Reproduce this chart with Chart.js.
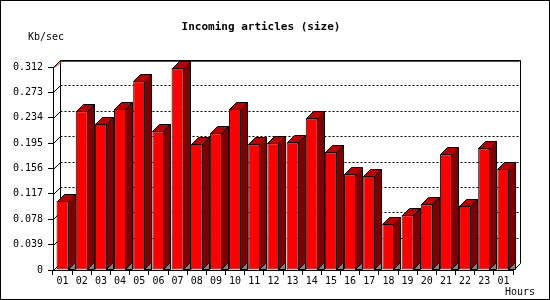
<!DOCTYPE html>
<html>
<head>
<meta charset="utf-8">
<script src="https://cdn.jsdelivr.net/npm/chart.js@4/dist/chart.umd.min.js"></script>
<style>
  html, body { margin: 0; padding: 0; background: #fff; }
  canvas { display: block; }
</style>
</head>
<body>
<canvas id="chart" width="550" height="300"></canvas>
<script>
const hours = ['01', '02', '03', '04', '05', '06', '07', '08', '09', '10', '11', '12',
  '13', '14', '15', '16', '17', '18', '19', '20', '21', '22', '23', '01'];
const kbPerSec = [0.106, 0.244, 0.225, 0.248, 0.290, 0.213, 0.310, 0.194, 0.210, 0.248, 0.193, 0.195,
  0.196, 0.233, 0.181, 0.147, 0.145, 0.071, 0.084, 0.101, 0.178, 0.099, 0.187, 0.156];
const yTickValues = [0, 0.039, 0.078, 0.117, 0.156, 0.195, 0.234, 0.273, 0.312];
const yTickLabels = ['0', '0.039', '0.078', '0.117', '0.156', '0.195', '0.234', '0.273', '0.312'];

const DEPTH = 7;
const MONO = '"DejaVu Sans Mono", monospace';

// back wall, dotted grid and the little diagonals off the y axis
const backWall = {
  id: 'backWall',
  beforeDatasetsDraw(chart) {
    const { ctx, chartArea: a, scales: { y } } = chart;
    const l = Math.round(a.left) + 0.5, r = Math.round(a.right) + 0.5;
    const t = Math.round(a.top) + 0.5, b = Math.round(a.bottom) + 0.5;
    ctx.save();
    ctx.lineWidth = 1;
    ctx.strokeStyle = '#000';

    ctx.setLineDash([2, 2]);
    yTickValues.slice(1, -1).forEach(v => {
      const py = Math.round(y.getPixelForValue(v)) + 0.5 - DEPTH;
      ctx.beginPath();
      ctx.moveTo(l + DEPTH, py);
      ctx.lineTo(r + DEPTH, py);
      ctx.stroke();
    });
    ctx.setLineDash([]);

    yTickValues.forEach(v => {
      const py = Math.round(y.getPixelForValue(v)) + 0.5;
      ctx.beginPath();
      ctx.moveTo(l, py);
      ctx.lineTo(l + DEPTH, py - DEPTH);
      ctx.stroke();
    });

    // wall edges
    ctx.beginPath();
    ctx.moveTo(l + DEPTH, b - DEPTH);
    ctx.lineTo(l + DEPTH, t - DEPTH);
    ctx.lineTo(r + DEPTH, t - DEPTH);
    ctx.lineTo(r + DEPTH, b - DEPTH);
    ctx.lineTo(r, b);
    ctx.stroke();

    // red line under the top edge
    ctx.strokeStyle = '#ff0000';
    ctx.beginPath();
    ctx.moveTo(l + 1, t);
    ctx.lineTo(l + DEPTH + 1, t - DEPTH + 1);
    ctx.lineTo(r + DEPTH - 1, t - DEPTH + 1);
    ctx.stroke();
    ctx.restore();
  }
};

// side and top faces of each bar
const bars3d = {
  id: 'bars3d',
  afterDatasetsDraw(chart) {
    const { ctx } = chart;
    const meta = chart.getDatasetMeta(0);
    ctx.save();
    ctx.lineWidth = 1;
    ctx.strokeStyle = '#000';
    meta.data.forEach(bar => {
      const xl = Math.round(bar.x - bar.width / 2) + 0.5;
      const xr = Math.round(bar.x + bar.width / 2) - 0.5;
      const yt = Math.round(bar.y) + 0.5;
      const yb = Math.round(bar.base) - 0.5;

      ctx.fillStyle = '#808080';
      ctx.beginPath();
      ctx.moveTo(xr, yb);
      ctx.lineTo(xr + DEPTH, yb - DEPTH);
      ctx.lineTo(xr + DEPTH, yb);
      ctx.closePath();
      ctx.fill();
      ctx.stroke();

      ctx.fillStyle = '#800000';
      ctx.beginPath();
      ctx.moveTo(xr, yt);
      ctx.lineTo(xr + DEPTH, yt - DEPTH);
      ctx.lineTo(xr + DEPTH, yb - DEPTH);
      ctx.lineTo(xr, yb);
      ctx.closePath();
      ctx.fill();
      ctx.stroke();

      ctx.fillStyle = '#c00000';
      ctx.beginPath();
      ctx.moveTo(xl, yt);
      ctx.lineTo(xl + DEPTH, yt - DEPTH);
      ctx.lineTo(xr + DEPTH, yt - DEPTH);
      ctx.lineTo(xr, yt);
      ctx.closePath();
      ctx.fill();
      ctx.stroke();
    });
    ctx.restore();
  }
};

// titles and the outer frame
const labels = {
  id: 'labels',
  afterDraw(chart) {
    const { ctx, width, height } = chart;
    ctx.save();
    ctx.fillStyle = '#000';
    ctx.textBaseline = 'middle';
    ctx.textAlign = 'center';
    ctx.font = 'bold 11px ' + MONO;
    ctx.fillText('Incoming articles (size)', 261, 27);
    ctx.textAlign = 'left';
    ctx.font = '10px ' + MONO;
    ctx.fillText('Kb/sec', 28, 37);
    ctx.fillText('Hours', 505, 292);
    ctx.strokeStyle = '#000';
    ctx.lineWidth = 1;
    ctx.strokeRect(0.5, 0.5, width - 1, height - 1);
    ctx.restore();
  }
};

new Chart(document.getElementById('chart'), {
  type: 'bar',
  data: {
    labels: hours,
    datasets: [{
      data: kbPerSec,
      backgroundColor: '#ff0000',
      borderColor: '#000',
      borderWidth: 1,
      borderSkipped: false,
      categoryPercentage: 1,
      barPercentage: 0.63
    }]
  },
  options: {
    responsive: false,
    animation: false,
    devicePixelRatio: 1,
    layout: { padding: { left: 8, right: 37, top: 67, bottom: 10 } },
    plugins: { legend: { display: false }, tooltip: { enabled: false } },
    scales: {
      x: {
        afterFit: s => { s.height = 20; },
        grid: { drawOnChartArea: false, tickLength: 5, color: '#000' },
        border: { color: '#000' },
        ticks: { color: '#000', padding: 0, maxRotation: 0, autoSkip: false, font: { family: MONO, size: 10 } }
      },
      y: {
        min: 0,
        max: 0.312,
        afterFit: s => { s.width = 45; },
        afterBuildTicks: s => { s.ticks = yTickValues.map(v => ({ value: v })); },
        grid: { drawOnChartArea: false, tickLength: 5, color: '#000' },
        border: { color: '#000' },
        ticks: {
          color: '#000', padding: 5, font: { family: MONO, size: 10 },
          callback: (v, i) => yTickLabels[i]
        }
      }
    }
  },
  plugins: [backWall, bars3d, labels]
});
</script>
</body>
</html>
